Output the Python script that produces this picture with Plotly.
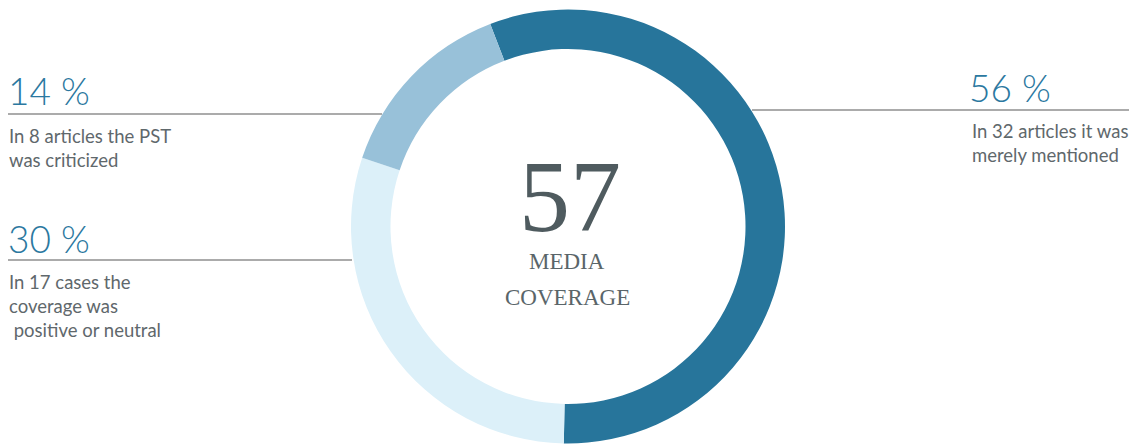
import plotly.graph_objects as go

# media coverage of the PST, number of articles per category
categories = ["merely mentioned", "positive or neutral", "criticized"]
articles = [32, 17, 8]
percent_labels = ["56 %", "30 %", "14 %"]
descriptions = [
    "In 32 articles it was<br>merely mentioned",
    "In 17 cases the<br>coverage was<br>\u00a0positive or neutral",
    "In 8 articles the PST<br>was criticized",
]
total_label = "57"
center_lines = ["MEDIA", "COVERAGE"]

colors = ["#27759b", "#dcf0f9", "#98c1d9"]
blue_text = "#2b78a0"
grey_text = "#5f686c"
line_color = "#8f8f8f"

W, H = 1131, 445


def px(x):
    return x / W


def py(y):
    return 1 - y / H


# ring centre and outer radius in pixels
cx, cy, r = 568, 226.5, 217

fig = go.Figure(go.Pie(
    labels=categories,
    values=articles,
    sort=False,
    direction="clockwise",
    rotation=-21,
    hole=0.818,
    marker=dict(colors=colors, line=dict(width=0)),
    textinfo="none",
    hoverinfo="label+value",
    showlegend=False,
    domain=dict(x=[px(cx - r), px(cx + r)], y=[py(cy + r), py(cy - r)]),
))

sans = "Lato"
serif = "Liberation Serif"
pct_font = dict(size=37, color=blue_text, family=sans, weight=300)
body_font = dict(size=18.5, color=grey_text, family=sans, weight=400)

annotations = [
    # right block (56 %)
    dict(x=px(967), y=py(87), text=percent_labels[0], font=pct_font),
    dict(x=px(970), y=py(143), text=descriptions[0], font=body_font),
    # left lower block (30 %)
    dict(x=px(6), y=py(238), text=percent_labels[1], font=pct_font),
    dict(x=px(7), y=py(306), text=descriptions[1], font=body_font),
    # left upper block (14 %)
    dict(x=px(6), y=py(90), text=percent_labels[2], font=pct_font),
    dict(x=px(7), y=py(148), text=descriptions[2], font=body_font),
]
for a in annotations:
    a.update(xref="paper", yref="paper", xanchor="left", yanchor="middle", align="left", showarrow=False)

center_font = dict(size=23, color="#5a6569", family=serif)
annotations += [
    dict(x=px(570), y=py(197), text=total_label, xref="paper", yref="paper", xanchor="center", yanchor="middle",
         showarrow=False, font=dict(size=102, color="#4f5b5f", family=serif)),
    dict(x=px(567), y=py(261), text=center_lines[0], xref="paper", yref="paper", xanchor="center",
         yanchor="middle", showarrow=False, font=center_font),
    dict(x=px(567), y=py(297), text=center_lines[1], xref="paper", yref="paper", xanchor="center",
         yanchor="middle", showarrow=False, font=center_font),
]

shapes = [
    dict(type="line", xref="paper", yref="paper", x0=px(8), x1=px(382), y0=py(114), y1=py(114),
         line=dict(color=line_color, width=1.5)),
    dict(type="line", xref="paper", yref="paper", x0=px(8), x1=px(352), y0=py(260), y1=py(260),
         line=dict(color=line_color, width=1.5)),
    dict(type="line", xref="paper", yref="paper", x0=px(752), x1=px(1129), y0=py(110), y1=py(110),
         line=dict(color=line_color, width=1.5)),
]

fig.update_layout(
    width=W,
    height=H,
    margin=dict(l=0, r=0, t=0, b=0),
    paper_bgcolor="white",
    plot_bgcolor="white",
    annotations=annotations,
    shapes=shapes,
)

# drop the browser's default page margin so the figure fills the window
fig.write_html("out.html", config={"displayModeBar": False},
               post_script="document.body.style.margin = '0';")
